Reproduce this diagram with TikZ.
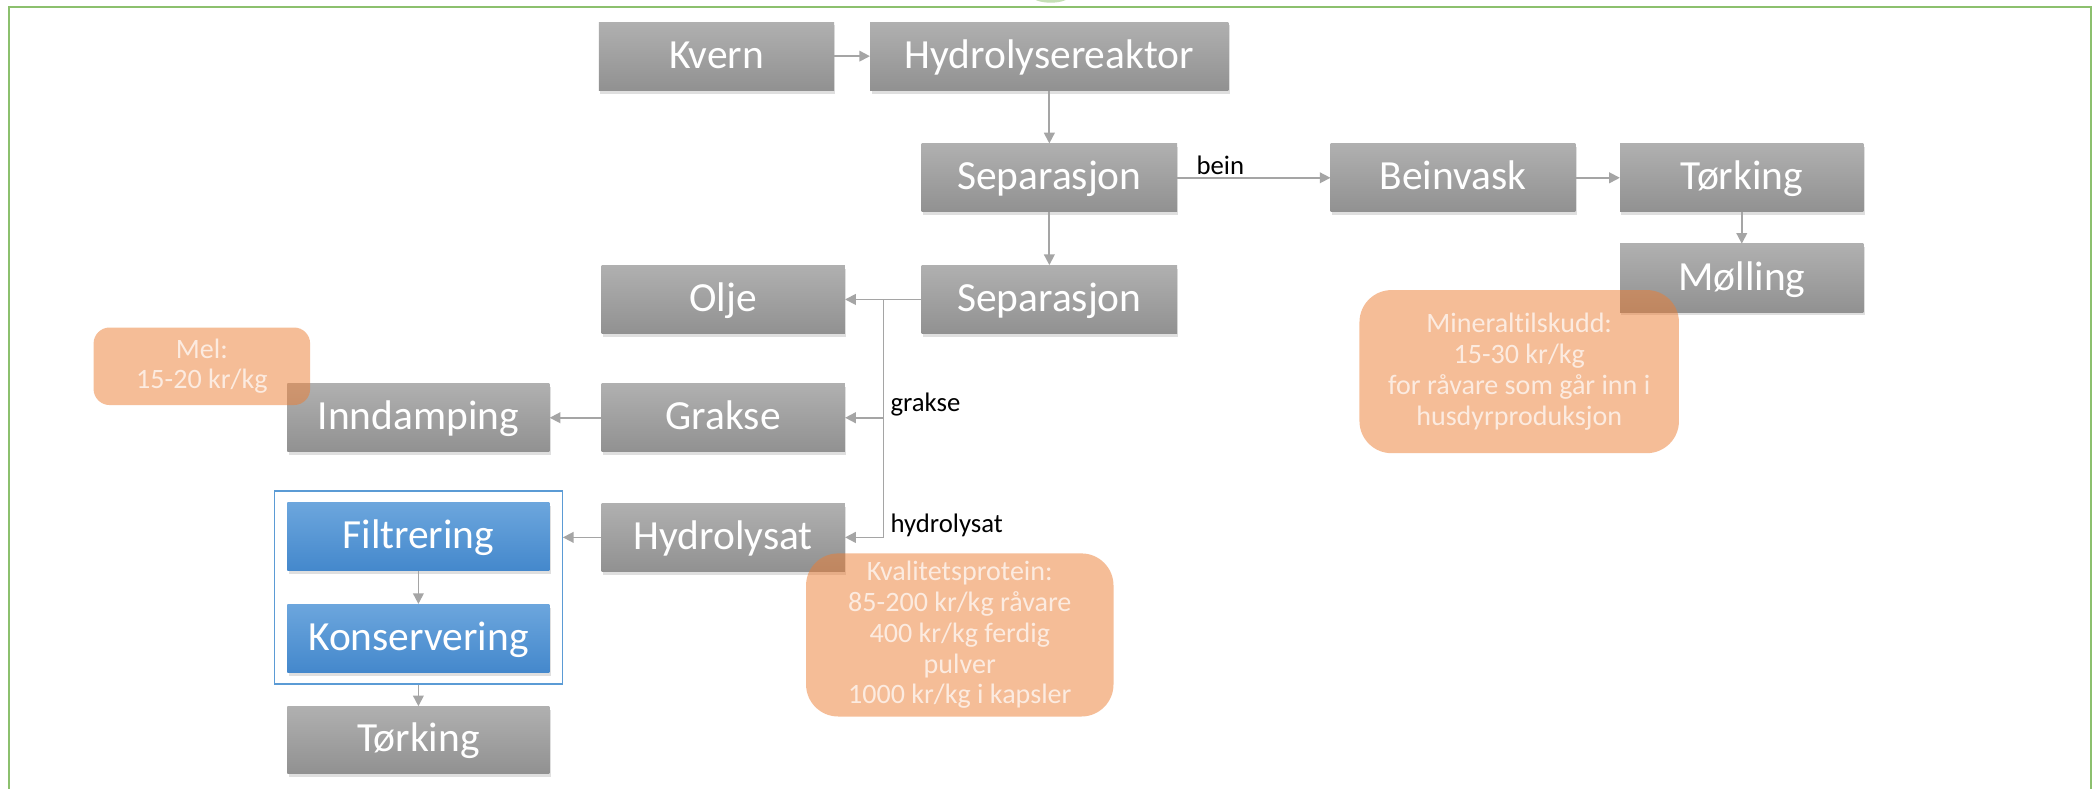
\documentclass[tikz,border=0pt]{standalone}
\usepackage{fontspec}
\setmainfont{Carlito}[Ligatures={TeX,NoCommon}]
\usetikzlibrary{arrows.meta,shadows,fit}

\definecolor{boxtop}{RGB}{176,176,176}
\definecolor{boxbot}{RGB}{145,145,145}
\definecolor{bluetop}{RGB}{108,166,221}
\definecolor{bluebot}{RGB}{68,136,204}
\definecolor{rammeblue}{RGB}{91,155,213}
\definecolor{framegreen}{RGB}{140,192,110}
\definecolor{arrowgray}{RGB}{165,165,165}
\definecolor{pricefill}{RGB}{237,125,49}
\definecolor{pricetext}{RGB}{252,235,224}

\tikzset{
  proc/.style={rectangle, inner sep=0pt, top color=boxtop, bottom color=boxbot,
    text=white, font=\fontsize{31}{36}\selectfont, text height=20pt, text depth=2pt,
    minimum height=51pt,
    drop shadow={shadow xshift=1pt, shadow yshift=-2.5pt, opacity=0.25}},
  procblue/.style={proc, top color=bluetop, bottom color=bluebot},
  ramme/.style={draw=rammeblue, line width=0.8pt, inner xsep=9.5pt, inner ysep=8.5pt},
  price/.style={rectangle, fill=pricefill, fill opacity=0.5, text opacity=1,
    text=pricetext, align=center, inner sep=0pt,
    font=\fontsize{21}{23}\selectfont},
  lbl/.style={font=\fontsize{20}{24}\selectfont, text=black, inner sep=0pt},
  arr/.style={color=arrowgray, line width=1.3pt, -{Triangle[length=8pt, width=8pt]}}
}

\begin{document}
\begin{tikzpicture}[x=1pt, y=-1pt]
    \useasboundingbox (0,0) rectangle (1568,590);
    \clip (0,0) rectangle (1568,590);
    \fill [white] (0,0) rectangle (1568,590);
    \draw [framegreen, line width=1.6pt] (7,600) -- (7,5.5) -- (1564,5.5) -- (1564,600);
    \fill [framegreen, opacity=0.5] (786,-3) ellipse [x radius=14, y radius=5];

    \node [proc, minimum width=176pt] (Kvern) at (536,42) {Kvern};
    \node [proc, minimum width=268pt] (Hydro) at (785,42) {Hydrolysereaktor};
    \node [proc, minimum width=191pt] (SepA) at (785,133) {Separasjon};
    \node [proc, minimum width=183pt] (Beinvask) at (1087,133) {Beinvask};
    \node [proc, minimum width=182pt] (TorkA) at (1303,133) {Tørking};
    \node [proc, minimum width=182pt] (Molling) at (1303,208) {Mølling};

    \node [proc, minimum width=191pt] (SepB) at (785,224) {Separasjon};
    \node [proc, minimum width=182pt] (Olje) at (541,224) {Olje};
    \node [proc, minimum width=182pt] (Grakse) at (541,312.5) {Grakse};
    \node [proc, minimum width=182pt] (Hydrolysat) at (541,402) {Hydrolysat};
    \coordinate (Jn) at (661,224);

    \node [proc, minimum width=196pt] (Inndamping) at (313,312.5) {Inndamping};
    \node [procblue, minimum width=196pt] (Filtrering) at (313,401.5) {Filtrering};
    \node [procblue, minimum width=196pt] (Konservering) at (313,477.5) {Konservering};
    \node [ramme, fit=(Filtrering)(Konservering)] (Ramme) {};
    \node [proc, minimum width=196pt, minimum height=50pt] (TorkB) at (313,553.5) {Tørking};

    \path [arr] (Kvern) edge node {} (Hydro);
    \path [arr] (Hydro) edge node {} (SepA);
    \path [arr] (SepA) edge node [lbl, pos=0.12, anchor=base west, yshift=2.5pt] {bein} (Beinvask);
    \path [arr] (Beinvask) edge node {} (TorkA);
    \path [arr] (TorkA) edge node {} (Molling);
    \path [arr] (SepA) edge node {} (SepB);
    \path [arr] (SepB) edge node {} (Olje);
    \draw [arr] (Jn) |- (Grakse.east);
    \draw [arr] (Jn) |- (Hydrolysat.east);
    \path [arr] (Grakse) edge node {} (Inndamping);
    \draw [arr] (Hydrolysat.west) -- (Hydrolysat.west -| Ramme.east);
    \path [arr] (Filtrering) edge node {} (Konservering);
    \draw [arr] (Ramme.south) -- (TorkB.north);

    \node [lbl, anchor=base west] (LblGrakse) at (666,308) {grakse};
    \node [lbl, anchor=base west] (LblHydrolysat) at (666,398) {hydrolysat};

    \node [price, minimum width=162pt, minimum height=58pt, rounded corners=12pt] (Mel) at (151,274) {Mel:\\15-20 kr/kg};
    \node [price, minimum width=239pt, minimum height=122pt, rounded corners=24pt] (Mineral) at (1136.5,278) {Mineraltilskudd:\\15-30 kr/kg\\for råvare som går inn i\\husdyrproduksjon};
    \node [price, minimum width=230pt, minimum height=122pt, rounded corners=24pt] (Kvalitet) at (718,475) {Kvalitetsprotein:\\85-200 kr/kg råvare\\400 kr/kg ferdig\\pulver\\1000 kr/kg i kapsler};
\end{tikzpicture}
\end{document}
